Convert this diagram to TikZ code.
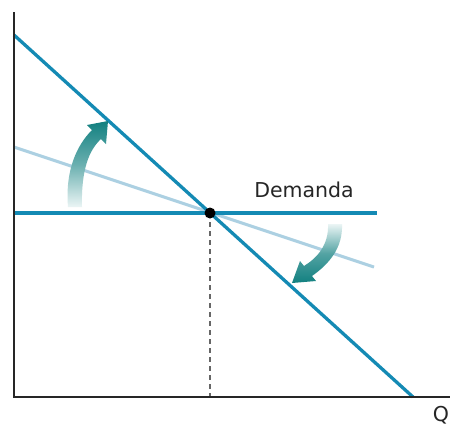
\documentclass[tikz,border=0pt]{standalone}
\usepackage{fontspec}
\setmainfont{DejaVu Sans}
\begin{document}
\begin{tikzpicture}[x=1pt,y=-1pt,
  axis/.style={line width=2pt, draw=black!85},
  demline/.style={line width=3.3pt, draw=mainblue},
  lightline/.style={line width=3pt, draw=lightblue},
  guide/.style={line width=1.2pt, draw=black!60, dash pattern=on 5pt off 4pt},
  lbl/.style={font=\fontsize{20.5}{22}\selectfont, inner sep=0pt, text=black!85}]
\definecolor{mainblue}{RGB}{20,138,180}
\definecolor{lightblue}{RGB}{172,208,226}
\definecolor{arrowteal}{RGB}{18,128,128}
\definecolor{arrowfade}{RGB}{235,245,245}
\useasboundingbox (0,0) rectangle (450,426);
\fill[white] (0,0) rectangle (450,426);
% points
\coordinate (ytop) at (14,12);
\coordinate (orig) at (14,397);
\coordinate (xend) at (450,397);
\coordinate (s1) at (14,35);
\coordinate (s2) at (413,397);
\coordinate (h1) at (14,213);
\coordinate (h2) at (377,213);
\coordinate (l1) at (14,147);
\coordinate (l2) at (374,267);
\coordinate (foot) at (210,397);
% lines
\draw[lightline] (l1) -- (l2);
\draw[guide] (210,213) -- (foot);
\draw[demline] (h1) -- (h2);
\draw[demline] (s1) -- (s2);
\draw[axis] (ytop) -- (orig) -- (xend);
\node[circle, fill=black, inner sep=0pt, minimum size=11pt] (eq) at (210,213) {};
% left arrow
\shade[top color=arrowteal, bottom color=arrowfade, middle color=arrowteal!60!arrowfade]
  (68,207) .. controls (65,170) and (77,145) .. (92,130)
  -- (87,125) -- (108,121) -- (106,144) -- (101,139)
  .. controls (89,150) and (81,170) .. (82,207) -- cycle;
% right arrow
\shade[top color=arrowfade, bottom color=arrowteal, middle color=arrowteal!70!arrowfade]
  (328,224) .. controls (329,245) and (317,258) .. (304,266)
  -- (300,261) -- (292,283) -- (316,281) -- (312,276)
  .. controls (329,264) and (343,248) .. (342,224) -- cycle;
% labels
\node[lbl] (dem) at (304,190) {Demanda};
\node[lbl] (q) at (441,415) {Q};
\end{tikzpicture}
\end{document}
